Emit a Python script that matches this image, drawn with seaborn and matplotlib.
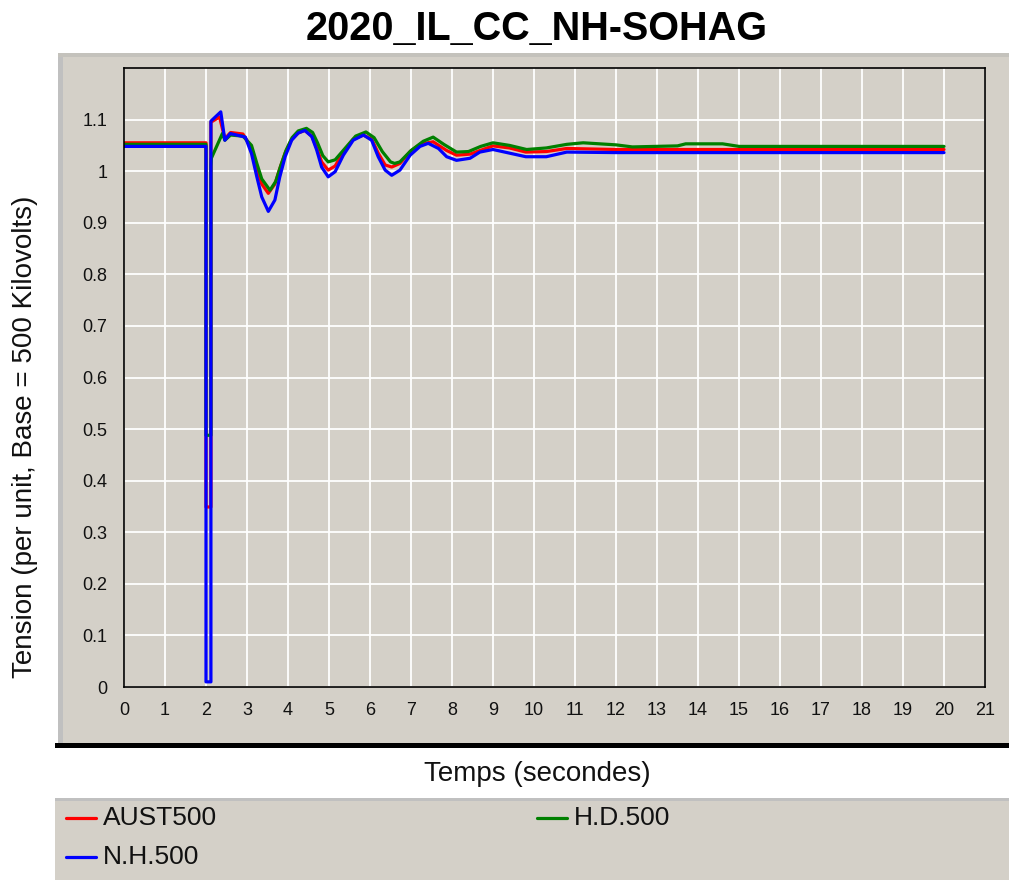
import matplotlib
matplotlib.use("Agg")
import matplotlib.pyplot as plt
import seaborn as sns
import pandas as pd
import numpy as np
from matplotlib.patches import Rectangle
from matplotlib.lines import Line2D

# values (time in s, tension in p.u.)
t_aust = [0, 2.0, 2.0, 2.12, 2.12, 2.33, 2.46, 2.6, 2.9, 3.11, 3.24, 3.36, 3.52, 3.68, 3.8, 3.93,
          4.09, 4.25, 4.41, 4.58, 4.7, 4.82, 4.98, 5.15, 5.35, 5.59, 5.84, 6.04, 6.2, 6.37, 6.53,
          6.73, 6.98, 7.22, 7.54, 7.87, 8.11, 8.44, 8.68, 9.0, 9.4, 9.8, 10.3, 10.8, 12.0, 20.0]
v_aust = [1.055, 1.055, 0.349, 0.349, 1.095, 1.105, 1.063, 1.075, 1.072, 1.045, 1.005, 0.975, 0.957,
          0.975, 1.005, 1.035, 1.062, 1.074, 1.079, 1.068, 1.045, 1.018, 1.002, 1.010, 1.037, 1.062,
          1.070, 1.062, 1.035, 1.012, 1.008, 1.015, 1.038, 1.052, 1.057, 1.040, 1.031, 1.033, 1.040,
          1.049, 1.045, 1.037, 1.038, 1.044, 1.042, 1.042]

t_hd = [0, 2.0, 2.0, 2.12, 2.12, 2.13, 2.40, 2.46, 2.6, 2.9, 3.11, 3.24, 3.36, 3.56, 3.7, 3.82,
        3.95, 4.1, 4.25, 4.45, 4.6, 4.72, 4.85, 4.98, 5.15, 5.4, 5.65, 5.9, 6.1, 6.3, 6.5, 6.6,
        6.73, 7.0, 7.3, 7.54, 7.8, 8.11, 8.4, 8.7, 9.0, 9.4, 9.82, 10.3, 10.8, 11.2, 12.0, 12.4,
        13.5, 13.7, 14.6, 15.0, 20.0]
v_hd = [1.052, 1.052, 0.488, 0.488, 1.010, 1.025, 1.073, 1.060, 1.070, 1.068, 1.050, 1.015, 0.985,
        0.963, 0.980, 1.010, 1.040, 1.065, 1.078, 1.083, 1.075, 1.055, 1.030, 1.018, 1.022, 1.045,
        1.068, 1.076, 1.065, 1.038, 1.018, 1.015, 1.018, 1.040, 1.058, 1.066, 1.052, 1.037, 1.038,
        1.048, 1.055, 1.050, 1.042, 1.045, 1.052, 1.055, 1.051, 1.047, 1.049, 1.053, 1.053, 1.048,
        1.048]

t_nh = [0, 2.0, 2.0, 2.12, 2.12, 2.36, 2.46, 2.59, 2.96, 3.11, 3.24, 3.36, 3.52, 3.68, 3.8, 3.93,
        4.09, 4.25, 4.41, 4.58, 4.7, 4.82, 4.98, 5.15, 5.35, 5.59, 5.84, 6.04, 6.2, 6.37, 6.53,
        6.73, 6.98, 7.22, 7.42, 7.67, 7.87, 8.11, 8.44, 8.68, 9.0, 9.8, 10.3, 10.8, 12.0, 20.0]
v_nh = [1.048, 1.048, 0.01, 0.01, 1.097, 1.115, 1.060, 1.073, 1.066, 1.034, 0.989, 0.950, 0.922,
        0.944, 0.989, 1.028, 1.060, 1.074, 1.079, 1.067, 1.041, 1.008, 0.989, 0.999, 1.031, 1.060,
        1.070, 1.060, 1.028, 1.002, 0.992, 1.002, 1.031, 1.048, 1.054, 1.044, 1.028, 1.021, 1.025,
        1.037, 1.042, 1.028, 1.028, 1.037, 1.036, 1.036]

names = ["AUST500", "H.D.500", "N.H.500"]
colors = {"AUST500": "#ff0000", "H.D.500": "#008000", "N.H.500": "#0000ff"}

rows = []
for name, tt, vv in zip(names, [t_aust, t_hd, t_nh], [v_aust, v_hd, v_nh]):
    for i, (a, b) in enumerate(zip(tt, vv)):
        rows.append({"t": a, "v": b, "serie": name, "i": i})
df = pd.DataFrame(rows)

sns.set_style("white")
plt.rcParams['font.family'] = ['Liberation Sans', 'DejaVu Sans']
plt.rcParams['text.color'] = 'black'

W, H = 1009, 880
fig = plt.figure(figsize=(W / 100, H / 100), dpi=100)
fig.patch.set_facecolor("white")

def px(x0, y0, x1, y1):
    # pixel box (top-left origin) -> figure coords
    return (x0 / W, 1 - y1 / H), (x1 - x0) / W, (y1 - y0) / H

panel = "#d4d0c8"
# main grey panel + edges
for box, col in [((58, 53, 1009, 743), panel), ((58, 53, 63, 743), "#c0c0c0"),
                 ((58, 53, 1009, 57), "#c4c2bc"), ((55, 743, 1009, 748), "black"),
                 ((55, 798, 1009, 880), panel), ((55, 798, 1009, 801), "#c0c0c0")]:
    xy, w, h = px(*box)
    fig.add_artist(Rectangle(xy, w, h, transform=fig.transFigure, facecolor=col,
                             edgecolor="none", zorder=0))

ax = fig.add_axes([124 / W, 1 - 687 / H, (985 - 124) / W, (687 - 68) / H])
ax.set_facecolor(panel)

for name in names:
    sub = df[df["serie"] == name].sort_values("i")
    sns.lineplot(data=sub, x="t", y="v", color=colors[name], sort=False, estimator=None,
                 linewidth=2.3, ax=ax, legend=False)

ax.set_xlim(0, 21)
ax.set_ylim(0, 1.2)
ax.set_xticks(np.arange(0, 22, 1))
ax.set_yticks(np.round(np.arange(0, 1.11, 0.1), 1))
ax.set_yticklabels(["0", "0.1", "0.2", "0.3", "0.4", "0.5", "0.6", "0.7", "0.8", "0.9", "1", "1.1"])
ax.grid(True, color="white", linewidth=1.3)
ax.set_axisbelow(True)
for s in ax.spines.values():
    s.set_color("black")
    s.set_linewidth(1.2)
ax.tick_params(axis="x", direction="in", length=4, width=1, pad=11, labelsize=13,
               colors="black", labelcolor="#111111")
ax.tick_params(axis="y", direction="in", length=5.5, width=1, pad=12, labelsize=13,
               colors="black", labelcolor="#111111")
ax.set_xlabel("")
ax.set_ylabel("")

fig.text(537 / W, 1 - 29 / H, "2020_IL_CC_NH-SOHAG", ha="center", va="center",
         fontsize=28.5, fontweight="bold", color="black")
fig.text(537 / W, 1 - 774 / H, "Temps (secondes)", ha="center", va="center", fontsize=20,
         color="#111111")
fig.text(25 / W, 1 - 437 / H, "Tension (per unit, Base = 500 Kilovolts)", ha="center",
         va="center", rotation=90, fontsize=20, color="#111111")

# legend in the bottom panel
for name, x0, y0 in [("AUST500", 66, 818), ("H.D.500", 537, 818), ("N.H.500", 66, 857)]:
    fig.add_artist(Line2D([x0 / W, (x0 + 30) / W], [1 - y0 / H, 1 - y0 / H],
                          transform=fig.transFigure, color=colors[name], linewidth=2.3))
    fig.text((x0 + 37) / W, 1 - y0 / H, name, ha="left", va="center", fontsize=19,
             color="#111111")

fig.savefig("out.png", dpi=100)
